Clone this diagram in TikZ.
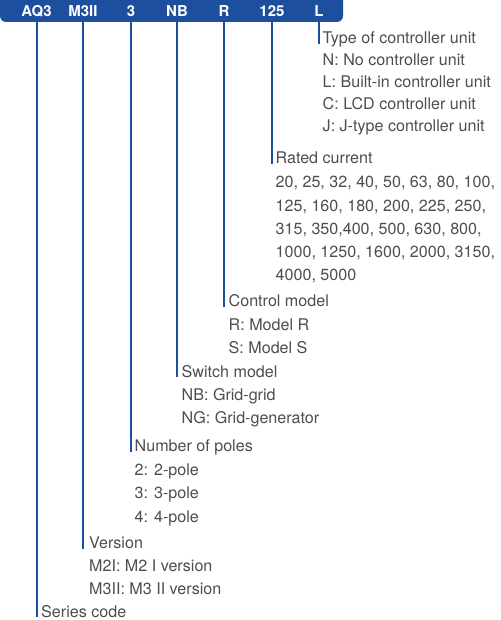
\documentclass[tikz,border=0pt]{standalone}
\usepackage{fontspec}
\setmainfont{TeX Gyre Heros}
\usetikzlibrary{positioning}
\definecolor{codeblue}{HTML}{1E4E9E}
\definecolor{textgray}{HTML}{4D4D4D}
\tikzset{
	barlabel/.style={font=\fontsize{15}{18}\selectfont\bfseries, text=white, inner sep=0pt, anchor=base}
}
\tikzset{
	headtext/.style={font=\fontsize{16.1}{18}\selectfont, text=textgray, inner sep=0pt, anchor=base west}
}
\tikzset{
	codeline/.style={draw=codeblue, line width=2pt}
}

\begin{document}
\begin{tikzpicture}[x=1pt,y=-1pt]

			\useasboundingbox (0,0) rectangle (500,620);
			\clip (0,0) rectangle (500,620);

			% code bar
			\begin{scope}
				\fill[codeblue, rounded corners=6pt] (0,-10) rectangle (343,22);

				\node[barlabel] (bA) at (36.5,17) {AQ3};
				\node[barlabel] (bB) at (83,17) {M3II};
				\node[barlabel] (bC) at (131,17) {3};
				\node[barlabel] (bD) at (177,17) {NB};
				\node[barlabel] (bE) at (224,17) {R};
				\node[barlabel] (bF) at (272,17) {125};
				\node[barlabel] (bG) at (319,17) {L};

				\coordinate (mA) at (36.5,22);
				\coordinate (mB) at (83,22);
				\coordinate (mC) at (131,22);
				\coordinate (mD) at (177,22);
				\coordinate (mE) at (224,22);
				\coordinate (mF) at (272,22);
				\coordinate (mG) at (319,22);
			\end{scope}

			% type of controller unit
			\begin{scope}
				\node[headtext] (hG) at (322.5,44) {Type of controller unit};
				\node[headtext] (g1) at (322.5,65.5) {N: No controller unit};
				\node[headtext] (g2) at (322.5,87.5) {L: Built-in controller unit};
				\node[headtext] (g3) at (322.5,109.5) {C: LCD controller unit};
				\node[headtext] (g4) at (322.5,131.5) {J: J-type controller unit};
			\end{scope}

			% rated current
			\begin{scope}
				\node[headtext] (hF) at (275.5,164) {Rated current};
				\node[headtext] (f1) at (275.5,188) {20, 25, 32, 40, 50, 63, 80, 100,};
				\node[headtext] (f2) at (275.5,211.5) {125, 160, 180, 200, 225, 250,};
				\node[headtext] (f3) at (275.5,234.5) {315, 350,400, 500, 630, 800,};
				\node[headtext] (f4) at (275.5,257.5) {1000, 1250, 1600, 2000, 3150,};
				\node[headtext] (f5) at (275.5,280.5) {4000, 5000};
			\end{scope}

			% control model
			\begin{scope}
				\node[headtext] (hE) at (228.5,306.5) {Control model};
				\node[headtext] (e1) at (228.5,330) {R: Model R};
				\node[headtext] (e2) at (228.5,353.5) {S: Model S};
			\end{scope}

			% switch model
			\begin{scope}
				\node[headtext] (hD) at (181.5,377) {Switch model};
				\node[headtext] (d1) at (181.5,400) {NB: Grid-grid};
				\node[headtext] (d2) at (181.5,423.5) {NG: Grid-generator};
			\end{scope}

			% number of poles
			\begin{scope}
				\node[headtext] (hC) at (134.5,451.5) {Number of poles};
				\node[headtext] (c1) at (134.5,475) {2: 2-pole};
				\node[headtext] (c2) at (134.5,498.5) {3: 3-pole};
				\node[headtext] (c3) at (134.5,522.5) {4: 4-pole};
			\end{scope}

			% version
			\begin{scope}
				\node[headtext] (hB) at (89,548.5) {Version};
				\node[headtext] (b1) at (89,571.5) {M2I: M2 I version};
				\node[headtext] (b2) at (89,594.5) {M3II: M3 II version};
			\end{scope}

			\node[headtext] (hA) at (41,617) {Series code};

			% leader lines
			\draw[codeline] (mA) -- (mA |- hA.base);
			\draw[codeline] (mB) -- (mB |- hB.base);
			\draw[codeline] (mC) -- (mC |- hC.base);
			\draw[codeline] (mD) -- (mD |- hD.base);
			\draw[codeline] (mE) -- (mE |- hE.base);
			\draw[codeline] (mF) -- (mF |- hF.base);
			\draw[codeline] (mG) -- (mG |- hG.base);

\end{tikzpicture}
\end{document}
